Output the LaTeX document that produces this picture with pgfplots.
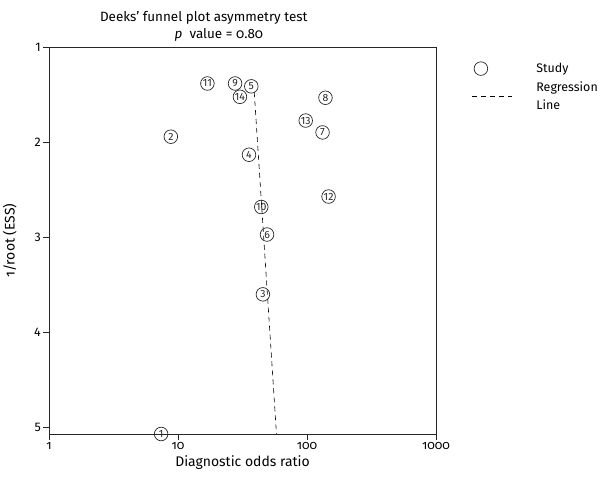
\documentclass[border=0pt]{standalone}
\usepackage{fontspec}
\setmainfont{Fira Sans}[Numbers=OldStyle]
\newfontfamily\lining{Fira Sans}[Numbers=Lining]
\usepackage{pgfplots}
\pgfplotsset{compat=1.18}
\usepackage{pgfplotstable}
\pgfplotsset{longdashlegend/.style={legend image code/.code={\draw[##1] (0cm,0cm) -- (1.4cm,0cm);}}}

\pgfplotstableread{
x y lab
7.4 5.07 1
8.8 1.94 2
45.5 3.60 3
35.5 2.13 4
37 1.41 5
49 2.97 6
132 1.895 7
139 1.53 8
27.7 1.38 9
44.2 2.68 10
16.9 1.38 11
147 2.57 12
97.7 1.77 13
30.2 1.52 14
}\studies

\pgfplotstableread{
x y
39 1.47
58 5.07
}\regline

\begin{document}
\begin{tikzpicture}
\path[use as bounding box] (-49bp,-48bp) rectangle (555bp,434bp);
\begin{axis}[
  at={(0,0)}, anchor=south west,
  scale only axis, width=387bp, height=386.6bp,
  xmode=log, xmin=1, xmax=1000, ymin=1, ymax=5.07, y dir=reverse,
  xtick={1,10,100,1000}, xticklabels={1,10,100,1000},
  ytick={1,2,3,4,5}, yticklabels={1,2,3,4,5},
  xminorticks=false, yminorticks=false,
  tick align=outside, major tick length=6bp,
  xtick pos=bottom, ytick pos=left,
  axis line style={line width=0.8pt, black!85},
  every tick/.style={black!85, line width=0.8pt},
  xticklabel style={font=\fontsize{12.5}{12.5}\selectfont, inner sep=2bp},
  yticklabel style={font=\lining\fontsize{12.5}{12.5}\selectfont, inner sep=2bp},
  xlabel={Diagnostic odds ratio},
  ylabel={1/root (ESS)},
  label style={font=\fontsize{14}{14}\selectfont},
  xlabel style={yshift=-1bp},
  ylabel style={yshift=12bp},
  title={Deeks’ funnel plot asymmetry test\\\hspace*{30bp}\textit{p}\; value = 0.80},
  title style={align=center, font=\fontsize{13.5}{16.5}\selectfont, at={(0.40,1)}, anchor=south, yshift=-3bp},
  legend style={draw=none, at={(1.085,0.97)}, anchor=north west, font=\fontsize{12.5}{18}\selectfont,
    cells={align=left}, row sep=4bp,
    /tikz/every odd column/.append style={column sep=22bp}},
  legend cell align=left,
  clip=false,
]
\addplot[only marks, mark=o, mark size=6.8bp, black!85, line width=0.7pt,
  nodes near coords, point meta=explicit symbolic,
  nodes near coords style={anchor=center, font=\lining\fontsize{10.5}{10.5}\selectfont, text=black!85, inner sep=0pt}]
  table[x=x, y=y, meta=lab] {\studies};
\addlegendentry{Study}
\addplot[black, line width=0.6pt, dash pattern=on 5bp off 4bp, longdashlegend]
  table[x=x, y=y] {\regline};
\addlegendentry{Regression\\Line}
\end{axis}
\end{tikzpicture}
\end{document}
